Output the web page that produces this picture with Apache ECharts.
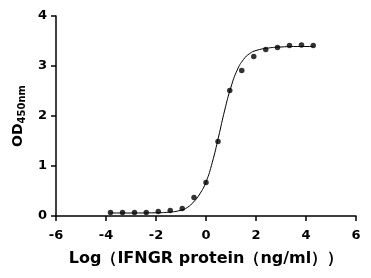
<!DOCTYPE html>
<html><head><meta charset="utf-8">
<script src="https://cdn.jsdelivr.net/npm/echarts@6/dist/echarts.min.js"></script>
<style>html,body{margin:0;padding:0;background:#fff}#c{width:371px;height:278px}</style>
</head><body><div id="c"></div>
<script>
// measured points: log concentration vs OD450
const logConc = [-3.82, -3.34, -2.86, -2.39, -1.91, -1.43, -0.95, -0.48, 0.00, 0.48, 0.95, 1.43, 1.91, 2.39, 2.86, 3.34, 3.82, 4.29];
const odValues = [0.07, 0.07, 0.07, 0.07, 0.09, 0.11, 0.15, 0.37, 0.67, 1.49, 2.51, 2.91, 3.19, 3.33, 3.37, 3.41, 3.42, 3.41];
// fitted curve
const curveX = [-3.84, -3.0, -2.0, -1.5, -1.0, -0.75, -0.5, -0.25, 0.0, 0.25, 0.5, 0.75, 1.0, 1.25, 1.5, 1.75, 2.0, 2.5, 3.0, 3.5, 4.29];
const curveY = [0.06, 0.06, 0.065, 0.076, 0.115, 0.17, 0.28, 0.44, 0.68, 1.07, 1.58, 2.12, 2.58, 2.92, 3.13, 3.25, 3.31, 3.36, 3.38, 3.39, 3.39];
const xTicks = [-6, -4, -2, 0, 2, 4, 6];
const yTicks = [0, 1, 2, 3, 4];

const chart = echarts.init(document.getElementById('c'), null, {renderer: 'canvas'});
const font = 'DejaVu Sans';
chart.setOption({
  animation: false,
  grid: {left: 56, right: 15, top: 16, bottom: 62},
  xAxis: {
    type: 'value', min: xTicks[0], max: xTicks[xTicks.length - 1], interval: 2,
    name: 'Log（IFNGR protein（ng/ml））', nameLocation: 'middle', nameGap: 35,
    nameTextStyle: {fontFamily: font, fontWeight: 'bold', fontSize: 16, color: '#000'},
    axisLine: {onZero: false, lineStyle: {color: '#000', width: 1.5}},
    axisTick: {length: 5, lineStyle: {color: '#000', width: 1.5}},
    axisLabel: {fontFamily: font, fontWeight: 'bold', fontSize: 13, color: '#000', margin: 13},
    splitLine: {show: false}
  },
  yAxis: {
    type: 'value', min: yTicks[0], max: yTicks[yTicks.length - 1], interval: 1,
    name: '{a|OD}{b|450nm}', nameLocation: 'middle', nameGap: 27, nameRotate: 90,
    nameTextStyle: {rich: {
      a: {fontFamily: font, fontWeight: 'bold', fontSize: 14, color: '#000'},
      b: {fontFamily: font, fontWeight: 'bold', fontSize: 10, color: '#000', verticalAlign: 'bottom', padding: [7, 0, 0, 0]}
    }},
    axisLine: {show: true, onZero: false, lineStyle: {color: '#000', width: 1.5}},
    axisTick: {show: true, length: 5, lineStyle: {color: '#000', width: 1.5}},
    axisLabel: {fontFamily: font, fontWeight: 'bold', fontSize: 13, color: '#000', margin: 9},
    splitLine: {show: false}
  },
  series: [
    {type: 'line', data: curveX.map((x, i) => [x, curveY[i]]), smooth: true, showSymbol: false,
     lineStyle: {color: '#000', width: 1}, silent: true},
    {type: 'scatter', data: logConc.map((x, i) => [x, odValues[i]]), symbol: 'circle', symbolSize: 5.5,
     itemStyle: {color: '#000'}}
  ]
});
</script></body></html>
